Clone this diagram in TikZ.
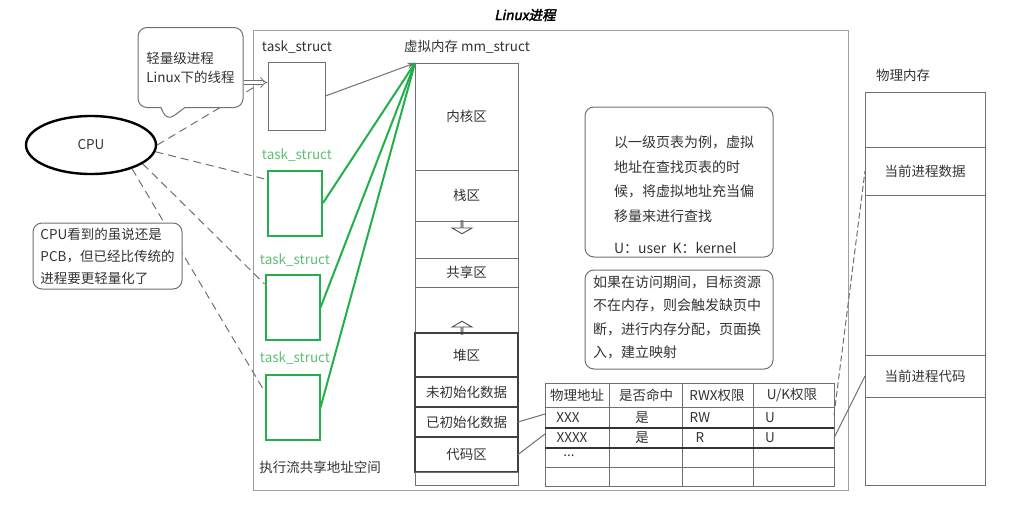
\documentclass[tikz,border=0pt]{standalone}
\usepackage{fontspec}
\setmainfont{Noto Sans CJK SC}[AutoFakeSlant=0.2,AutoFakeBold=2.5]
\usetikzlibrary{arrows.meta,positioning,calc,shapes.geometric,shapes.callouts,shapes.arrows}
\definecolor{lnGray}{HTML}{707070}
\definecolor{frGray}{HTML}{A0A0A0}
\definecolor{tsGreen}{HTML}{22B04A}
\definecolor{txGreen}{HTML}{5DBF74}
\definecolor{txDark}{HTML}{333333}
\tikzset{
  >=Stealth,
  tsbox/.style ={rectangle,draw=lnGray,line width=1pt,minimum width=57pt,minimum height=68pt},
  grbox/.style ={rectangle,draw=tsGreen,line width=2pt,minimum width=54pt,minimum height=65pt},
  tslab/.style ={text=txGreen},
  seg/.style   ={rectangle,draw=lnGray,line width=1pt,outer sep=0pt,minimum width=103pt,inner sep=0pt},
  segB/.style  ={seg,draw=black!75,line width=1.4pt},
  pseg/.style  ={rectangle,draw=lnGray,line width=1pt,outer sep=0pt,minimum width=120pt,inner sep=0pt},
  hollow/.style={single arrow,draw=black!70,fill=white,line width=0.9pt,inner sep=0pt,
                 minimum width=20pt,minimum height=13pt,single arrow head extend=5pt,
                 single arrow tip angle=120},
  cpu/.style   ={ellipse,draw=black,line width=2.4pt,minimum width=130pt,minimum height=58pt},
  bubble/.style={rectangle callout,draw=lnGray,fill=white,line width=1pt,rounded corners=9pt,
                 align=left,minimum width=105pt,minimum height=80pt,callout pointer width=24pt},
  note/.style  ={rectangle,draw=lnGray,line width=1pt,rounded corners=9pt,align=left},
  cpuLink/.style={lnGray,line width=1pt,dash pattern=on 8pt off 5pt},
  grLink/.style={tsGreen,line width=2pt},
  thinLink/.style={lnGray,line width=1pt},
  tblLine/.style={lnGray,line width=1pt},
}

\begin{document}
\begin{tikzpicture}[x=1pt,y=-1pt,font=\fontsize{13.5}{16}\selectfont,text=txDark]
  \useasboundingbox (0,0) rectangle (1020,507);

  % ---- process frame ----
  \draw[frGray,line width=1pt] (253,30) rectangle (848,490);
  \node[font=\fontsize{13.5}{16}\selectfont\bfseries\itshape,text=black] (title) at (525,15) {Linux进程};

  % ---- threads ----
  \node (lab1) at (297,47) {task\_struct};
  \node[tsbox] (ts1) at (296.5,96) {};
  \node[tslab] (lab2) at (297,155) {task\_struct};
  \node[grbox] (ts2) at (295,203) {};
  \node[tslab] (lab3) at (295,260) {task\_struct};
  \node[grbox] (ts3) at (292.5,307.5) {};
  \node[tslab] (lab4) at (295,358) {task\_struct};
  \node[grbox] (ts4) at (292.5,407.5) {};
  \node (share) at (320,467) {执行流共享地址空间};

  % ---- virtual memory ----
  \node (mmlab) at (467,47) {虚拟内存 mm\_struct};
  \node[seg,minimum height=107pt] (mmK) at (466.5,116.5) {内核区};
  \node[seg,minimum height=51pt,below=0pt of mmK] (mmS) {栈区};
  \node[seg,minimum height=37pt,below=0pt of mmS] (mmG1) {};
  \node[seg,minimum height=29pt,below=0pt of mmG1] (mmSh) {共享区};
  \node[seg,minimum height=46pt,below=0pt of mmSh] (mmG2) {};
  \node[hollow,shape border rotate=90] (up) at (462,328) {};
  \node[segB,minimum height=44pt,below=0pt of mmG2] (mmH) {堆区};
  \node[segB,minimum height=30pt,below=0pt of mmH] (mmU) {未初始化数据};
  \node[segB,minimum height=30pt,below=0pt of mmU] (mmI) {已初始化数据};
  \node[segB,minimum height=35pt,below=0pt of mmI] (mmC) {代码区};
  \node[seg,minimum height=13pt,below=0pt of mmC] (mmE) {};
  \node[hollow,shape border rotate=270] (down) at (462,227) {};
  \draw[lnGray,line width=1pt] (mmS.south west) -- (mmS.south east);

  \draw[->,thinLink] (ts1.east) -- (mmK.north west);
  \foreach \t in {ts2,ts3,ts4}
    \draw[grLink] (\t.east) -- (mmK.north west);

  % ---- CPU side ----
  \node[cpu] (cpu) at (91,145) {CPU};
  \draw[cpuLink] (cpu.east) -- (ts1.150);
  \draw[cpuLink] (cpu.-6) -- (ts2.140);
  \draw[cpuLink] (cpu.-20) -- (ts3.140);
  \draw[cpuLink] (cpu.-30) -- (ts4.150);
  \coordinate (tip) at (167,121);
  \node[bubble,callout absolute pointer={(tip)}] (bubble) at (190.5,67.5) {轻量级进程\\[3pt]Linux下的线程};
  \draw[double=white,draw=lnGray,double distance=3pt,line width=0.8pt,-{Implies}]
    ([yshift=-15pt]bubble.east) -- ([yshift=-15pt]bubble.east -| ts1.west);
  \node[note,fill=white,minimum width=149pt,minimum height=66pt,inner sep=2pt,
        font=\fontsize{13.5}{22}\selectfont] (cpunote) at (107.5,256)
        {CPU看到的虽说还是\\PCB，但已经比传统的\\进程要更轻量化了};

  % ---- notes ----
  \node[note,minimum width=188pt,minimum height=150pt] (pgnote) at (679,182) {};
  \node[align=left,font=\fontsize{14}{24.5}\selectfont] (pgtxt) at (684,195)
        {以一级页表为例，虚拟\\地址在查找页表的时\\候，将虚拟地址充当偏\\移量来进行查找\\[8pt]U：user~ K：kernel};
  \node[note,minimum width=188pt,minimum height=99pt] (pfnote) at (679,319.5) {};
  \node[align=left,font=\fontsize{14}{23.5}\selectfont] (pftxt) at (677,317.5)
        {如果在访问期间，目标资源\\不在内存，则会触发缺页中\\断，进行内存分配，页面换\\入，建立映射};

  % ---- page table ----
  \draw[tblLine] (545,383) rectangle (834,486);
  \foreach \x in {609,682,753}
    \draw[tblLine] (\x,383) -- (\x,486);
  \foreach \y in {407,467}
    \draw[tblLine] (545,\y) -- (834,\y);
  \foreach \y in {428,448}
    \draw[black!80,line width=1.4pt] (545,\y) -- (834,\y);
  \node (hPA) at (577,395) {物理地址};
  \node (hHit) at (646,395) {是否命中};
  \node (hRWX) at (717,395) {RWX权限};
  \node (hUK) at (792,395) {U/K权限};
  \node (aPA) at (568,418) {XXX};
  \node (aHit) at (642,418) {是};
  \node (aRWX) at (700,418) {RW};
  \node (aUK) at (770,418) {U};
  \node (bPA) at (572,438) {XXXX};
  \node (bHit) at (642,438) {是};
  \node (bRWX) at (700,438) {R};
  \node (bUK) at (770,438) {U};
  \node (cPA) at (569,456) {...};
  \coordinate (ptA) at (545,414);
  \coordinate (ptB) at (545,434);
  \coordinate (ptAr) at (834,415);
  \coordinate (ptBr) at (834,438);

  % ---- physical memory ----
  \node (phlab) at (903,75) {物理内存};
  \node[pseg,minimum height=55pt] (ph0) at (925,119.5) {};
  \node[pseg,minimum height=48pt,below=0pt of ph0] (phD) {当前进程数据};
  \node[pseg,minimum height=160pt,below=0pt of phD] (ph1) {};
  \node[pseg,minimum height=42pt,below=0pt of ph1] (phC) {当前进程代码};
  \node[pseg,minimum height=88pt,below=0pt of phC] (ph2) {};

  \draw[thinLink] (mmI.east) -- (ptA);
  \draw[thinLink] (mmC.east) -- (ptB);
  \draw[thinLink,dash pattern=on 6pt off 3pt] (ptAr) -- (phD.west);
  \draw[thinLink] (ptBr) -- (phC.west);
\end{tikzpicture}
\end{document}
